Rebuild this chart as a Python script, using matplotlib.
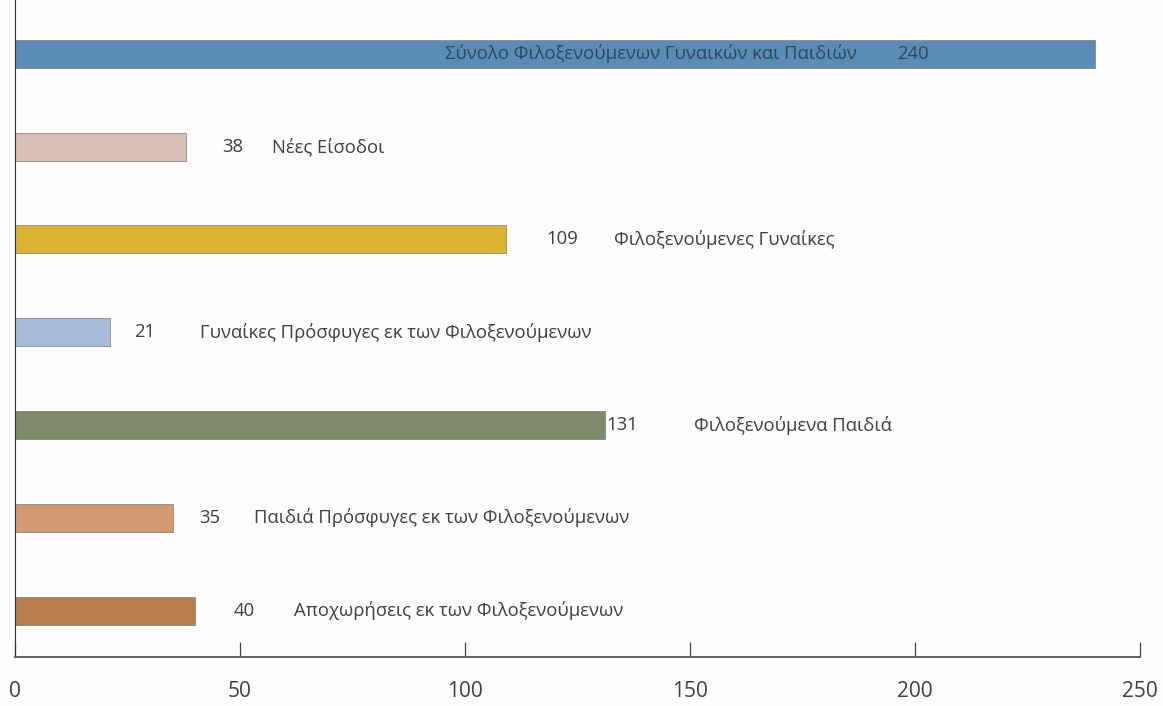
import matplotlib.pyplot as plt

# Dati del grafico (dall'alto verso il basso)
categorie = [
    "Σύνολο Φιλοξενούμενων Γυναικών και Παιδιών",
    "Νέες Είσοδοι",
    "Φιλοξενούμενες Γυναίκες",
    "Γυναίκες Πρόσφυγες εκ των Φιλοξενούμενων",
    "Φιλοξενούμενα Παιδιά",
    "Παιδιά Πρόσφυγες εκ των Φιλοξενούμενων",
    "Αποχωρήσεις εκ των Φιλοξενούμενων",
]
valori = [240, 38, 109, 21, 131, 35, 40]
colori = ["#5a8cb6", "#d8c0b6", "#d9b331", "#a8bbd8", "#7f8b6b", "#d39a72", "#b77d4b"]

# posizione (in unità dati) del numero e del testo per ogni barra
pos_numero = [196, 46, 118, 26.5, 131.5, 41, 48.5]
pos_testo = [95.5, 57, 133, 41, 151, 53, 62]

SFONDO = "#fefdfb"
TESTO = "#404040"

plt.rcParams["font.family"] = ["Open Sans", "DejaVu Sans"]

fig = plt.figure(figsize=(11.63, 7.06), dpi=100, facecolor=SFONDO)
ax = fig.add_axes([15 / 1163, 49 / 706, 1125 / 1163, 657 / 706], facecolor=SFONDO)

y = list(range(len(valori)))
ax.barh(y, valori, height=0.30, color=colori, edgecolor="#8a8a8a", linewidth=0.6)

for i, (v, cat) in enumerate(zip(valori, categorie)):
    col = "#2e4761" if i == 0 else TESTO
    ax.text(pos_numero[i], i, str(v), va="center", ha="left", fontsize=13.3, color=col)
    ax.text(pos_testo[i], i, cat, va="center", ha="left", fontsize=13.3, color=col)

ax.set_xlim(0, 250)
ax.set_ylim(6.5, -0.58)
ax.set_yticks([])
ax.set_xticks([0, 50, 100, 150, 200, 250])
ax.tick_params(axis="x", direction="in", length=11, width=0.9, color="#444444",
               labelsize=15, labelcolor=TESTO, pad=17)
for s in ["top", "right"]:
    ax.spines[s].set_visible(False)
ax.spines["left"].set_color("#333333")
ax.spines["bottom"].set_color("#555555")
ax.spines["bottom"].set_linewidth(1.3)

fig.savefig("out.png", dpi=100, facecolor=SFONDO)
